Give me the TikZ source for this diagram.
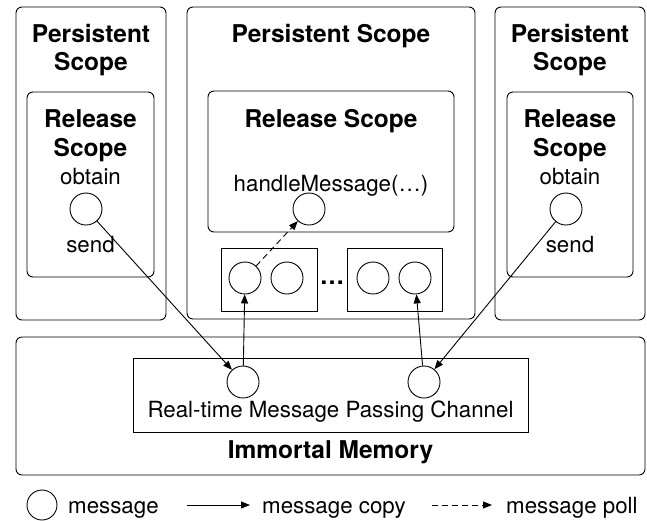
\documentclass[tikz,border=0pt]{standalone}
\usepackage{fontspec}
\setmainfont{TeX Gyre Heros}
\usetikzlibrary{arrows.meta}
\begin{document}
\begin{tikzpicture}[x=1pt,y=-1pt,
  rbox/.style={draw, rounded corners=6pt, line width=0.9pt, inner sep=0pt},
  sbox/.style={draw, line width=0.9pt, inner sep=0pt},
  msg/.style={draw, circle, minimum size=32pt, inner sep=0pt, line width=0.9pt},
  title/.style={font=\fontsize{24.5}{29}\selectfont\bfseries, inner sep=0pt, anchor=base},
  lbl/.style={font=\fontsize{22.3}{27}\selectfont, inner sep=0pt, anchor=base},
  copyarrow/.style={-{Triangle[length=9pt,width=7pt]}, line width=0.9pt},
  pollarrow/.style={copyarrow, dash pattern=on 6pt off 4pt}
]
\useasboundingbox (0,0) rectangle (647,520);
% boxes
\node[rbox, minimum width=150pt, minimum height=313pt] (p1) at (91,163.5) {};
\node[rbox, minimum width=288pt, minimum height=312pt] (p2) at (331,163) {};
\node[rbox, minimum width=150pt, minimum height=313pt] (p3) at (570,163.5) {};
\node[rbox, minimum width=127pt, minimum height=185pt] (r1) at (90.5,184.5) {};
\node[rbox, minimum width=246pt, minimum height=141pt] (r2) at (331,161.5) {};
\node[rbox, minimum width=126pt, minimum height=185pt] (r3) at (570,184.5) {};
\node[sbox, minimum width=96pt, minimum height=63pt] (q1) at (269,279.5) {};
\node[sbox, minimum width=95pt, minimum height=63pt] (q2) at (394.5,279.5) {};
\node[rbox, minimum width=629pt, minimum height=138pt] (im) at (330.5,406) {};
\node[sbox, minimum width=395pt, minimum height=74pt] (ch) at (330.5,395) {};
% titles
\node[title] (t1a) at (91,42) {Persistent};
\node[title] (t1b) at (91,70) {Scope};
\node[title] (t2) at (331,42) {Persistent Scope};
\node[title] (t3a) at (570,42) {Persistent};
\node[title] (t3b) at (570,70) {Scope};
\node[title] (u1a) at (90.5,127) {Release};
\node[title] (u1b) at (90.5,156) {Scope};
\node[title] (u2) at (331,127) {Release Scope};
\node[title] (u3a) at (570,127) {Release};
\node[title] (u3b) at (570,156) {Scope};
\node[lbl] (ob1) at (90.5,184) {obtain};
\node[lbl] (se1) at (90.5,252) {send};
\node[lbl] (ob3) at (570,184) {obtain};
\node[lbl] (se3) at (570,252) {send};
\node[lbl] (hm) at (331,191) {handleMessage(…)};
\node[lbl] (chl) at (330.5,417) {Real-time Message Passing Channel};
\node[title] (iml) at (330.5,458) {Immortal Memory};
\node[font=\fontsize{24.5}{29}\selectfont\bfseries, inner sep=0pt] (dots) at (332,283) {…};
% messages
\node[msg] (lc) at (86,209) {};
\node[msg] (mc) at (309,209) {};
\node[msg] (rc) at (566,209) {};
\node[msg] (b1a) at (245,278) {};
\node[msg] (b1b) at (287,278) {};
\node[msg] (b2a) at (373,278) {};
\node[msg] (b2b) at (415,278) {};
\node[msg] (c1) at (243,382) {};
\node[msg] (c2) at (424,382) {};
% connectors
\draw[copyarrow] (lc) -- (c1);
\draw[copyarrow] (rc) -- (c2);
\draw[copyarrow] (c1) -- (b1a);
\draw[copyarrow] (c2) -- (b2b);
\draw[pollarrow] (b1a) -- (mc);
% legend
\node[msg, minimum size=30pt] (lg) at (42,505) {};
\node[lbl, anchor=base west] (lt1) at (68,513) {message};
\coordinate (a1) at (187,505);
\coordinate (a2) at (250,505);
\draw[copyarrow] (a1) -- (a2);
\node[lbl, anchor=base west] (lt2) at (262,513) {message copy};
\coordinate (d1) at (432,505);
\coordinate (d2) at (492,505);
\draw[pollarrow] (d1) -- (d2);
\node[lbl, anchor=base west] (lt3) at (506,513) {message poll};
\end{tikzpicture}
\end{document}
